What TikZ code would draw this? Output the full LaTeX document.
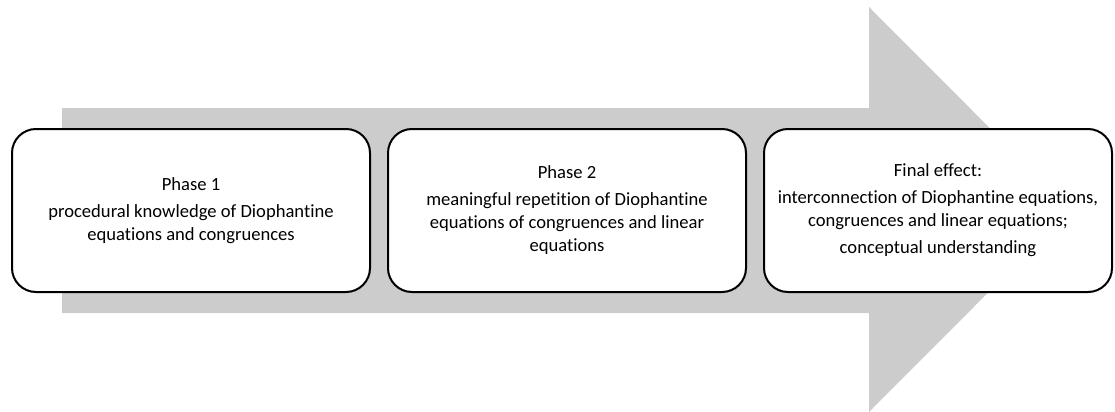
\documentclass[tikz,border=0pt]{standalone}
\usepackage{fontspec}
\setmainfont{Carlito}[Ligatures=NoCommon]
\usetikzlibrary{positioning}
\definecolor{arrowgray}{RGB}{204,204,204}

\begin{document}
\begin{tikzpicture}[x=0.5pt,y=-0.5pt,node distance=8pt]
  \tikzstyle{phase}=[draw,fill=white,rounded corners=12pt,line width=1pt,minimum height=81.5pt,align=center,font=\fontsize{9.3}{11.5}\selectfont]

  \useasboundingbox (0,0) rectangle (1115,412);

  % big arrow behind the phases
  \fill[arrowgray] (62,108) -- (869,108) -- (869,7) -- (1071,209.5) -- (869,412) -- (869,313) -- (62,313) -- cycle;

  \node[phase,minimum width=179pt] (P1) at (191,210.5) {Phase 1\\[2pt]procedural knowledge of Diophantine\\equations and congruences};
  \node[phase,minimum width=179pt] (P2) [right=of P1] {Phase 2\\[2pt]meaningful repetition of Diophantine\\equations of congruences and linear\\equations};
  \node[phase,minimum width=174pt] (F) [right=of P2] {Final effect:\\[2pt]interconnection of Diophantine equations,\\congruences and linear equations;\\[2pt]conceptual understanding};
\end{tikzpicture}
\end{document}
